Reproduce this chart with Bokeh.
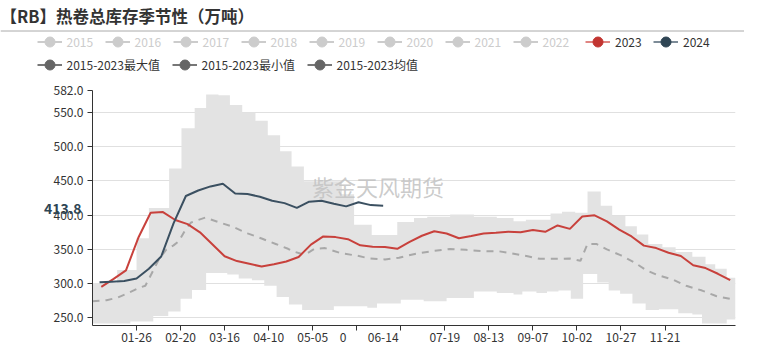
import numpy as np
from bokeh.plotting import figure
from bokeh.layouts import column
from bokeh.models import (FixedTicker, PrintfTickFormatter, Label, Legend, LegendItem,
                          Span, Range1d)
from bokeh.core.properties import value
from bokeh.embed import file_html
from bokeh.resources import INLINE

FONT = "Noto Sans CJK SC, Noto Sans, sans-serif"

# ---------------- data ----------------
title_text = "【RB】热卷总库存季节性（万吨）"
watermark_text = "紫金天风期货"
legend_inactive = ["2015", "2016", "2017", "2018", "2019", "2020", "2021", "2022"]
legend_active = ["2023", "2024"]
legend_stats = ["2015-2023最大值", "2015-2023最小值", "2015-2023均值"]

x_tick_days = [25, 50, 75, 100, 125, 150, 175, 200, 225, 250, 275, 300, 325]
x_label_days = [25, 50, 75, 100, 125, 142.3, 165, 200, 225, 250, 275, 300, 325]
x_label_texts = ["01-26", "02-20", "03-16", "04-10", "05-05", "0", "06-14",
                 "07-19", "08-13", "09-07", "10-02", "10-27", "11-21"]
y_ticks = [250, 300, 350, 400, 450, 500, 550, 582]

pointer_value = 413.8

day_2024 = [4, 11, 18, 25, 32, 39, 46, 53, 60, 67, 74, 81, 88, 95, 102, 109, 116,
            123, 130, 137, 144, 151, 158, 165]
val_2024 = [302, 303, 304, 307.7, 321.8, 339.7, 388, 428, 436, 442, 445.8, 431.7,
            430.8, 427, 421, 417.6, 410.6, 419.8, 421.2, 416.6, 412.9, 418.9, 414.7, 413.8]

day_2023 = list(range(5, 363, 7))
val_2023 = [295.5, 307, 319.5, 367, 403.5, 404.5, 393, 387, 375, 357.5, 340, 333, 329,
            325, 328.5, 332.5, 339, 357, 369, 368, 365, 356, 354, 353.5, 351, 361, 370,
            376.6, 373.3, 366.3, 369.6, 373.3, 374.3, 376, 375.2, 378.5, 375.7, 385, 380,
            398.2, 399.8, 391, 379, 369, 355.6, 352, 345.2, 340.4, 327, 322.8, 314.5, 305.2]

mean_day = [0, 8, 14, 20, 27, 30, 33, 38, 42, 46, 49, 53, 56, 64, 72, 79, 88, 96, 104,
            111, 113, 118, 121, 126, 132, 141, 150, 157, 166, 174, 183, 193, 203, 212,
            222, 231, 237, 247, 254, 263, 271, 277, 281, 286, 292, 300, 307, 314, 320,
            330, 337, 346, 354, 363, 365]
mean_val = [274.5, 276, 279.5, 286, 294.6, 297, 312, 337, 350, 356, 362, 380, 389.4,
            396.5, 389.4, 383.8, 373.5, 366, 358, 351, 348, 344, 343, 351, 352, 344.5,
            341, 337, 335.4, 338, 343.5, 347.6, 350.8, 349.4, 347.6, 347.2, 344.8, 340,
            336.3, 336.3, 336.8, 333.5, 358, 358, 350, 341.4, 332, 320.3, 313.3, 305.4,
            297, 290, 282, 277.3, 277]

max_day = [0, 14, 25, 32, 43.5, 50.5, 58, 64.5, 71.5, 78, 85, 92.5, 99.5, 106.5, 113,
           120, 141.5, 148.5, 158.5, 173, 182.5, 190, 203, 216.5, 229.5, 239, 246, 260,
           266.5, 274, 281, 288.5, 295, 302.5, 309, 315.5, 323.5, 331, 340.5, 348, 353.5,
           360]
max_val = [300.5, 320, 366.5, 410.6, 468.3, 527, 556.6, 576.3, 575, 561, 549.5, 537.8,
           516.7, 493.2, 471, 449.5, 430.6, 386, 371, 390, 396, 397.7, 401, 397.7, 396,
           391, 393.2, 402.6, 405, 403.5, 434.5, 413.8, 398.8, 383.8, 372, 358, 353.3,
           346.2, 339.2, 328.4, 321.8, 308.7]

min_day = [0, 21.5, 34.5, 43, 50, 56.5, 64.5, 76.5, 83, 90.5, 97.5, 104.5, 111.5, 119,
           137, 156, 161.5, 175, 188, 201, 216.5, 229.5, 239, 244, 252, 258, 264.5,
           271.5, 278.5, 286.5, 293, 299.5, 306.5, 314, 321.5, 332.5, 340.5, 346, 360]
min_val = [242, 245, 253, 259.4, 278.2, 290.8, 315.7, 313.4, 307.7, 305, 297, 280.5,
           269.7, 261.8, 267, 265, 271, 276.5, 274.5, 279, 288.5, 286.6, 284.3, 288.5,
           286.6, 288.5, 290, 278.2, 314.3, 301.6, 290, 285.2, 271.1, 261.7, 262.7, 257,
           255.2, 242, 247.7]

X_END = 365
Y_MIN, Y_MAX = 239, 582

# ---------------- header figure ----------------
W = 744
HH = 82
hdr = figure(width=W, height=HH, x_range=Range1d(0, W), y_range=Range1d(HH, 0),
             x_axis_type=None, y_axis_type=None, output_backend="svg",
             toolbar_location=None, min_border=0)
hdr.min_border_left = 0
hdr.min_border_right = 0
hdr.min_border_top = 0
hdr.min_border_bottom = 0
hdr.outline_line_color = None
hdr.xgrid.visible = False
hdr.ygrid.visible = False
hdr.background_fill_color = "white"
hdr.border_fill_color = "white"

hdr.add_layout(Label(x=0, y=15, text=title_text, text_font=FONT, text_font_size="16.5px",
                     text_font_style="bold", text_color="#333333",
                     text_align="left", text_baseline="middle"))
hdr.add_layout(Span(location=30.5, dimension="width", line_color="#aaaaaa", line_width=1))

NAN = np.array([np.nan])


def legend_items(fig, labels, line_color, marker_color):
    items = []
    for lab, lc, mc in zip(labels, line_color, marker_color):
        lr = fig.line(x=NAN, y=NAN, line_color=lc, line_width=2)
        sr = fig.scatter(x=NAN, y=NAN, marker="circle", size=10, fill_color=mc,
                         line_color=mc)
        items.append(LegendItem(label=lab, renderers=[lr, sr]))
    return items


def make_legend(items, loc, text_color, label_width, spacing):
    return Legend(items=items, location=loc, orientation="horizontal",
                  glyph_width=25, glyph_height=25, label_standoff=5,
                  label_width=label_width, label_height=16, spacing=spacing,
                  padding=0, margin=0, border_line_color=None,
                  background_fill_alpha=0, label_text_font=FONT,
                  label_text_font_size="12px", label_text_color=text_color)


row1_bottom = HH - (41 + 12.5)
row2_bottom = HH - (64 + 12.5)
n = len(legend_inactive)
hdr.add_layout(make_legend(legend_items(hdr, legend_inactive, ["#cccccc"] * n, ["#cccccc"] * n),
                           (36.5, row1_bottom), "#cccccc", 28, 10), "center")
hdr.add_layout(make_legend(legend_items(hdr, legend_active, ["#e08582", "#7d8c98"],
                                        ["#c23531", "#2f4554"]),
                           (585, row1_bottom), "#333333", 28, 10), "center")
hdr.add_layout(make_legend(legend_items(hdr, legend_stats, ["#777777"] * 3, ["#666666"] * 3),
                           (36.5, row2_bottom), "#333333", 98, 7), "center")

# ---------------- main figure ----------------
MH = 345 - HH
p = figure(width=W, height=MH, x_range=Range1d(0, X_END), y_range=Range1d(Y_MIN, Y_MAX),
           output_backend="svg", toolbar_location=None,
           min_border_left=92, min_border_right=9, min_border_top=8,
           min_border_bottom=20)
p.outline_line_color = None
p.background_fill_color = "white"
p.border_fill_color = "white"

for fig in (hdr, p):
    if "frame_align" in fig.properties():
        fig.frame_align = False


def step_at(days, vals, d):
    v = vals[0]
    for dd, vv in zip(days, vals):
        if dd <= d:
            v = vv
    return v


edges = sorted(set(max_day) | set(min_day) | {X_END})
bx, blo, bhi = [], [], []
for i in range(len(edges) - 1):
    lo = step_at(min_day, min_val, edges[i])
    hi = step_at(max_day, max_val, edges[i])
    bx += [edges[i], edges[i + 1]]
    blo += [lo, lo]
    bhi += [hi, hi]
p.varea(x=bx, y1=blo, y2=bhi, fill_color="#e3e3e3", fill_alpha=1)

p.text(x=[162], y=[442], text=[watermark_text], text_font=value(FONT),
       text_font_size="22px", text_color="#c2c2c2", text_alpha=0.85,
       text_align="center", text_baseline="middle")

p.line(mean_day, mean_val, line_color="#a8a8a8", line_width=2, line_dash="7 6")
p.line(day_2023, val_2023, line_color="#c8413c", line_width=2)
p.line(day_2024, val_2024, line_color="#3b5061", line_width=2)

xa = p.xaxis[0]
ya = p.yaxis[0]
xa.ticker = FixedTicker(ticks=x_label_days, minor_ticks=x_tick_days)
xa.major_label_overrides = dict(zip(x_label_days, x_label_texts))
ya.ticker = FixedTicker(ticks=y_ticks)
ya.formatter = PrintfTickFormatter(format="%.1f")
for ax in (xa, ya):
    ax.axis_line_color = "#333333"
    ax.major_tick_line_color = "#333333"
    ax.major_tick_in = 0
    ax.major_tick_out = 5
    ax.major_label_text_font = FONT
    ax.major_label_text_font_size = "12px"
    ax.major_label_text_color = "#333333"
ya.minor_tick_line_color = None
xa.major_tick_line_color = None
xa.minor_tick_line_color = "#333333"
xa.minor_tick_in = 0
xa.minor_tick_out = 5
xa.major_label_standoff = 2
ya.major_label_standoff = 4
p.xgrid.visible = False
p.ygrid.ticker = FixedTicker(ticks=y_ticks)
p.ygrid.grid_line_color = "#e0e0e0"

# current value pointer label, drawn as the y axis' own label
AX_PROPS = ya.properties()
if "axis_label_orientation" in AX_PROPS:
    ya.axis_label = f"{pointer_value:.1f}"
    ya.axis_label_orientation = "horizontal"
    ya.axis_label_standoff = -31
    ya.axis_label_text_font = FONT
    ya.axis_label_text_font_size = "14px"
    ya.axis_label_text_font_style = "bold"
    ya.axis_label_text_color = "#2f4554"
    if "axis_label_background_fill_color" in AX_PROPS:
        ya.axis_label_background_fill_color = "white"
    if "axis_label_border_line_color" in AX_PROPS:
        ya.axis_label_border_line_color = "#cccccc"

layout = column(hdr, p, spacing=0)
open("out.html", "w").write(file_html(layout, INLINE))
